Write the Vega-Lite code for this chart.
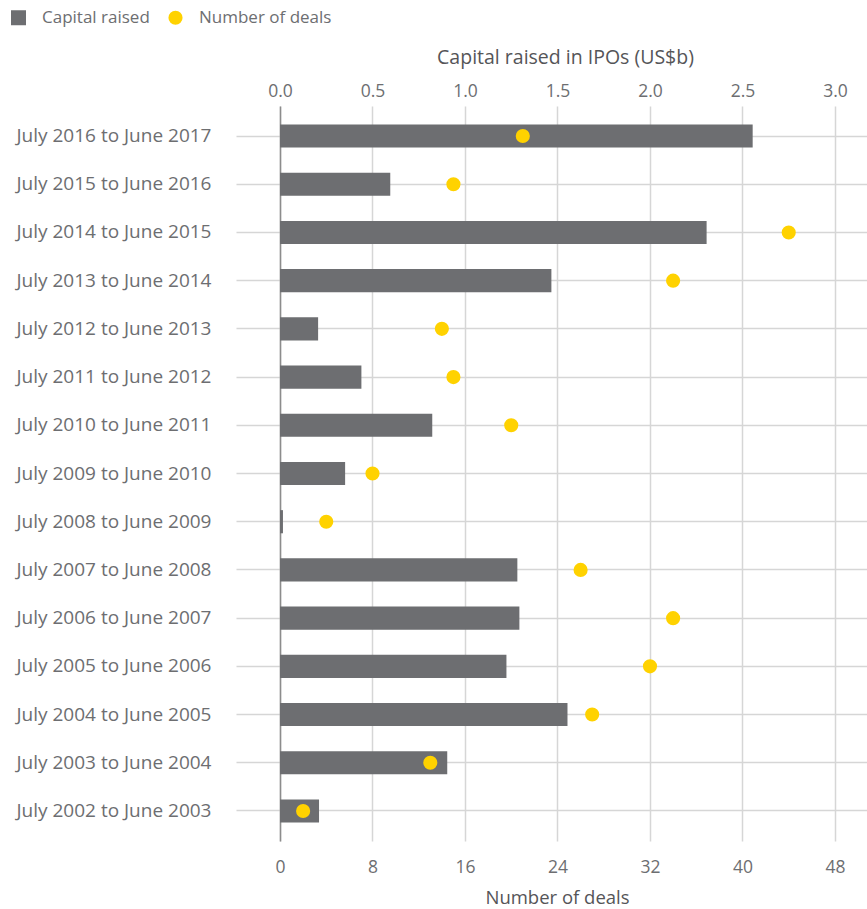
{
  "$schema": "https://vega.github.io/schema/vega-lite/v6.json",
  "autosize": {"type": "none"},
  "padding": {"left": 280, "top": 106, "right": 0, "bottom": 68},
  "width": 587,
  "height": 735,
  "background": "white",
  "config": {
    "view": {"stroke": null},
    "font": "Open Sans",
    "axis": {"labelFont": "Open Sans", "titleFont": "Open Sans"}
  },
  "data": {
    "values": [
      {"period": "July 2016 to June 2017", "capital": 2.555, "deals": 21},
      {"period": "July 2015 to June 2016", "capital": 0.596, "deals": 15},
      {"period": "July 2014 to June 2015", "capital": 2.306, "deals": 44},
      {"period": "July 2013 to June 2014", "capital": 1.467, "deals": 34},
      {"period": "July 2012 to June 2013", "capital": 0.206, "deals": 14},
      {"period": "July 2011 to June 2012", "capital": 0.44, "deals": 15},
      {"period": "July 2010 to June 2011", "capital": 0.823, "deals": 20},
      {"period": "July 2009 to June 2010", "capital": 0.352, "deals": 8},
      {"period": "July 2008 to June 2009", "capital": 0.016, "deals": 4},
      {"period": "July 2007 to June 2008", "capital": 1.283, "deals": 26},
      {"period": "July 2006 to June 2007", "capital": 1.294, "deals": 34},
      {"period": "July 2005 to June 2006", "capital": 1.224, "deals": 32},
      {"period": "July 2004 to June 2005", "capital": 1.554, "deals": 27},
      {"period": "July 2003 to June 2004", "capital": 0.904, "deals": 13},
      {"period": "July 2002 to June 2003", "capital": 0.211, "deals": 2}
    ]
  },
  "encoding": {
    "y": {
      "field": "period",
      "type": "nominal",
      "sort": null,
      "scale": {"paddingInner": 0.52, "paddingOuter": 0.383},
      "axis": {
        "title": null,
        "labelFontSize": 19,
        "labelColor": "#6d6e71",
        "labelPadding": 25,
        "labelLimit": 300,
        "tickSize": 44,
        "tickColor": "#d6d6d6",
        "tickWidth": 1.5,
        "grid": true,
        "gridColor": "#d6d6d6",
        "gridWidth": 1.5,
        "domain": true,
        "domainColor": "#8c8c8c",
        "domainWidth": 1.5,
        "zindex": 0
      }
    }
  },
  "layer": [
    {
      "mark": {"type": "bar", "color": "#6d6e71"},
      "encoding": {
        "x": {
          "field": "capital",
          "type": "quantitative",
          "scale": {"domain": [0, 3.173], "nice": false, "zero": true},
          "axis": {
            "orient": "top",
            "title": "Capital raised in IPOs (US$b)",
            "values": [0, 0.5, 1, 1.5, 2, 2.5, 3],
            "format": ".1f",
            "labelFontSize": 17.5,
            "labelColor": "#6d6e71",
            "labelPadding": 6,
            "labelFlush": false,
            "ticks": false,
            "domain": false,
            "grid": true,
            "gridColor": "#d6d6d6",
            "gridWidth": 1.5,
            "titleFontSize": 19.5,
            "titleFontWeight": 500,
            "titleColor": "#555558",
            "titlePadding": 15,
            "titleX": 285
          }
        },
        "color": {
          "datum": "Capital raised",
          "type": "nominal",
          "scale": {"domain": ["Capital raised", "Number of deals"], "range": ["#6d6e71", "#ffd200"]},
          "legend": {
            "title": null,
            "orient": "none",
            "direction": "horizontal",
            "legendX": -270,
            "legendY": -97,
            "labelFontSize": 17,
            "labelColor": "#6d6e71",
            "symbolSize": 225,
            "labelOffset": 15,
            "columnPadding": 17,
            "symbolStrokeWidth": 0,
            "symbolOpacity": 1,
            "encode": {
              "symbols": {
                "update": {
                  "shape": {"signal": "datum.label === 'Capital raised' ? 'square' : 'circle'"},
                  "size": {"signal": "datum.label === 'Capital raised' ? 225 : 200"}
                }
              }
            }
          }
        }
      }
    },
    {
      "mark": {"type": "point", "filled": true, "opacity": 1, "size": 200, "shape": "circle"},
      "encoding": {
        "x": {
          "field": "deals",
          "type": "quantitative",
          "scale": {"domain": [0, 50.77], "nice": false, "zero": true},
          "axis": {
            "orient": "bottom",
            "title": "Number of deals",
            "values": [0, 8, 16, 24, 32, 40, 48],
            "labelFontSize": 17.5,
            "labelColor": "#6d6e71",
            "labelPadding": 17,
            "labelFlush": false,
            "ticks": false,
            "domain": false,
            "grid": false,
            "titleFontSize": 18.5,
            "titleFontWeight": 500,
            "titleColor": "#555558",
            "titlePadding": 13,
            "titleX": 277
          }
        },
        "color": {"datum": "Number of deals", "type": "nominal"}
      }
    }
  ],
  "resolve": {"scale": {"x": "independent"}}
}
